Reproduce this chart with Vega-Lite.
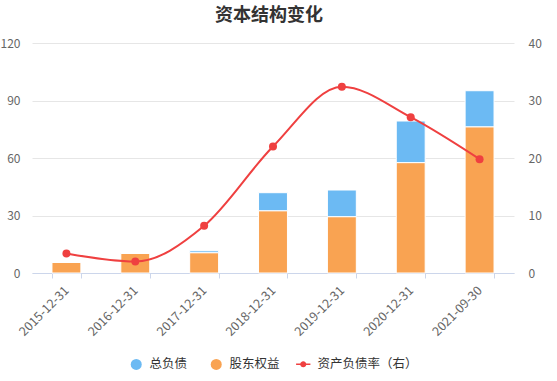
{
  "$schema": "https://vega.github.io/schema/vega-lite/v6.json",
  "width": 482,
  "height": 230,
  "autosize": {"type": "none"},
  "padding": {"left": 32, "top": 43, "right": 43, "bottom": 108},
  "background": "#ffffff",
  "config": {
    "font": "Noto Sans CJK SC",
    "view": {"stroke": null}
  },
  "title": {
    "text": "资本结构变化",
    "font": "Noto Sans CJK SC",
    "fontSize": 18,
    "fontWeight": "bold",
    "color": "#333333",
    "offset": 12,
    "dx": -4
  },
  "datasets": {
    "bars": [
      {"date": "2015-12-31", "series": "股东权益", "value": 5.5},
      {"date": "2015-12-31", "series": "总负债", "value": 0.2},
      {"date": "2016-12-31", "series": "股东权益", "value": 10.2},
      {"date": "2016-12-31", "series": "总负债", "value": 0.2},
      {"date": "2017-12-31", "series": "股东权益", "value": 10.6},
      {"date": "2017-12-31", "series": "总负债", "value": 1.0},
      {"date": "2018-12-31", "series": "股东权益", "value": 32.5},
      {"date": "2018-12-31", "series": "总负债", "value": 9.4},
      {"date": "2019-12-31", "series": "股东权益", "value": 29.4},
      {"date": "2019-12-31", "series": "总负债", "value": 13.9},
      {"date": "2020-12-31", "series": "股东权益", "value": 57.6},
      {"date": "2020-12-31", "series": "总负债", "value": 21.7},
      {"date": "2021-09-30", "series": "股东权益", "value": 76.3},
      {"date": "2021-09-30", "series": "总负债", "value": 18.8}
    ],
    "rate": [
      {"date": "2015-12-31", "series": "资产负债率（右）", "rate": 3.4},
      {"date": "2016-12-31", "series": "资产负债率（右）", "rate": 2.0},
      {"date": "2017-12-31", "series": "资产负债率（右）", "rate": 8.2},
      {"date": "2018-12-31", "series": "资产负债率（右）", "rate": 22.0},
      {"date": "2019-12-31", "series": "资产负债率（右）", "rate": 32.4},
      {"date": "2020-12-31", "series": "资产负债率（右）", "rate": 27.1},
      {"date": "2021-09-30", "series": "资产负债率（右）", "rate": 19.8}
    ]
  },
  "encoding": {
    "x": {
      "field": "date",
      "type": "nominal",
      "sort": null,
      "scale": {"paddingInner": 0.58, "paddingOuter": 0.29},
      "axis": {
        "title": null,
        "labelAngle": -45,
        "labelAlign": "right",
        "labelBaseline": "middle",
        "labelFontSize": 12.5,
        "labelColor": "#666666",
        "labelPadding": 10,
        "domainColor": "#ccd6eb",
        "tickColor": "#ccd6eb",
        "tickSize": 5,
        "tickBand": "extent",
        "grid": false
      }
    }
  },
  "layer": [
    {
      "data": {"name": "bars"},
      "mark": {"type": "bar", "stroke": "#ffffff", "strokeWidth": 1},
      "encoding": {
        "y": {
          "field": "value",
          "type": "quantitative",
          "stack": "zero",
          "scale": {"domain": [0, 120]},
          "axis": {
            "title": null,
            "values": [0, 30, 60, 90, 120],
            "orient": "left",
            "domain": false,
            "ticks": false,
            "labelFontSize": 12,
            "labelColor": "#666666",
            "labelPadding": 12,
            "gridColor": "#e6e6e6",
            "gridWidth": 1
          }
        },
        "fill": {
          "field": "series",
          "type": "nominal",
          "scale": {
            "domain": ["总负债", "股东权益"],
            "range": ["#6cbaf3", "#f9a352"]
          },
          "legend": {
            "title": null,
            "orient": "none",
            "direction": "horizontal",
            "legendX": 98,
            "legendY": 315,
            "symbolType": "circle",
            "symbolSize": 121,
            "symbolStrokeWidth": 0,
            "symbolOpacity": 1,
            "labelFontSize": 12.5,
            "labelColor": "#333333",
            "labelOffset": 7,
            "columnPadding": 22
          }
        },
        "order": {"field": "series", "sort": "descending"}
      }
    },
    {
      "data": {"name": "rate"},
      "layer": [
        {
          "mark": {
            "type": "line",
            "interpolate": "monotone",
            "strokeWidth": 2
          },
          "encoding": {
            "stroke": {
              "field": "series",
              "type": "nominal",
              "scale": {"domain": ["资产负债率（右）"], "range": ["#ef4040"]},
              "legend": {
                "title": null,
                "orient": "none",
                "direction": "horizontal",
                "legendX": 265,
                "legendY": 315,
                "symbolType": "M-1.3,-0.13L1.3,-0.13L1.3,0.13L-1.3,0.13Z M0.55,0A0.55,0.55 0 1 1 -0.55,0A0.55,0.55 0 1 1 0.55,0Z",
                "symbolSize": 121,
                "symbolFillColor": "#ef4040",
                "symbolStrokeColor": "#ef4040",
                "symbolStrokeWidth": 0,
                "symbolOpacity": 1,
                "labelFontSize": 12.5,
                "labelColor": "#333333",
                "labelOffset": 8
              }
            }
          }
        },
        {
          "mark": {"type": "point", "filled": true, "size": 64, "opacity": 1, "color": "#ef4040"},
          "encoding": {}
        }
      ],
      "encoding": {
        "y": {
          "field": "rate",
          "type": "quantitative",
          "scale": {"domain": [0, 40]},
          "axis": {
            "title": null,
            "orient": "right",
            "values": [0, 10, 20, 30, 40],
            "domain": false,
            "ticks": false,
            "grid": false,
            "labelFontSize": 12,
            "labelColor": "#666666",
            "labelPadding": 14
          }
        }
      }
    }
  ],
  "resolve": {"scale": {"y": "independent"}}
}
